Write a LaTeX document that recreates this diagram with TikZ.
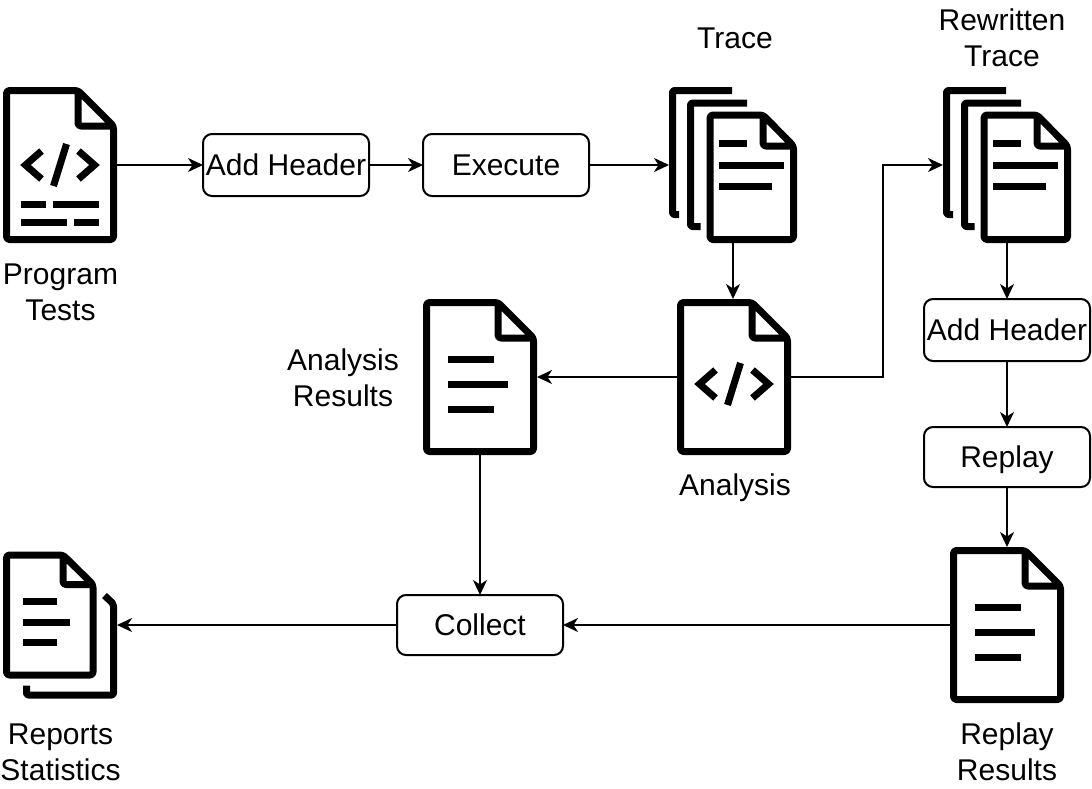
\documentclass[tikz,border=0pt]{standalone}
\usepackage{fontspec}
\setmainfont{Liberation Sans}
\usepackage{tikz}
\usetikzlibrary{arrows.meta}

\newcommand{\sheetpath}[6]{
  \draw[iconline,rounded corners=3pt] (#5,#2) -- (#1,#2) -- (#1,#4) -- (#3,#4) -- (#3,#6) -- (#5,#2) -- (#5,#6) -- (#3,#6) -- cycle;
}

\tikzset{
  iconline/.style={line width=7pt,line join=round},
  stepbox/.style={draw,line width=2pt,rounded corners=9pt,minimum width=166pt,inner sep=0pt,outer sep=0pt,text height=21pt,text depth=0pt},
  iconbox/.style={inner sep=0pt,outer sep=0pt,minimum width=114pt,minimum height=156pt},
  caption/.style={align=center,inner sep=0pt},
  pics/codefile/.style={code={
    \sheetpath{-53.5}{-74.5}{53.5}{74.5}{18}{-39}
  }},
  pics/codemark/.style={code={
    \draw[iconline,line join=miter] (-18.5,-14) -- (-34.5,0) -- (-18.5,14);
    \draw[iconline,line join=miter] (18.5,-14) -- (34.5,0) -- (18.5,14);
    \draw[iconline] (6.5,-21) -- (-6.5,21);
  }},
  pics/codetail/.style={code={
    \draw[iconline] (-39,39) -- (-14.5,39);
    \draw[iconline] (-7,39) -- (39,39);
    \draw[iconline] (-39,57) -- (7,57);
    \draw[iconline] (14,57) -- (39,57);
  }},
  pics/textfile/.style={code={
    \sheetpath{-53.5}{-74.5}{53.5}{74.5}{18}{-39}
    \draw[iconline] (-32,-18) -- (14,-18);
    \draw[iconline] (-32,7) -- (28,7);
    \draw[iconline] (-32,32) -- (14,32);
  }},
  pics/stackfile/.style={code={
    \draw[iconline,rounded corners=2pt] (-1,-74.5) -- (-60.5,-74.5) -- (-60.5,49.5) -- (-54,49.5);
    \draw[iconline,rounded corners=2pt] (14,-62) -- (-42.5,-62) -- (-42.5,61.5) -- (-32.5,61.5);
    \sheetpath{-23}{-50}{60.5}{74.5}{30}{-19}
    \draw[iconline] (-14,-22) -- (14,-22);
    \draw[iconline] (-14,0) -- (51,0);
    \draw[iconline] (-14,21) -- (39,21);
  }},
  pics/reportfile/.style={code={
    \sheetpath{-53.5}{-70}{33}{50}{3}{-40.5}
    \draw[iconline] (-37,-23.5) -- (-3,-23.5);
    \draw[iconline] (-37,-3) -- (10,-3);
    \draw[iconline] (-37,17) -- (-3,17);
    \draw[iconline,rounded corners=2pt] (44.5,-29.5) -- (53.5,-21) -- (53.5,70) -- (-33.5,70) -- (-33.5,60.5);
  }}
}

\begin{document}
\begin{tikzpicture}[x=1pt,y=-1pt,>={Stealth[length=15pt,width=14pt,inset=4.5pt]},line width=2pt,font=\fontsize{30}{36}\selectfont]
        \useasboundingbox (0,0) rectangle (1092,788);

        \node[iconbox] (tests) at (60,165) {};
        \node[stepbox,minimum height=62pt] (addheader) at (286,165) {Add Header};
        \node[stepbox,minimum height=62pt] (execute) at (506,165) {Execute};
        \node[iconbox,minimum width=128pt] (trace) at (733,165) {};
        \node[iconbox,minimum width=128pt] (rewritten) at (1007,165) {};
        \node[iconbox] (results) at (480,377) {};
        \node[iconbox] (analysis) at (734,377) {};
        \node[stepbox,minimum height=62pt] (addheaderb) at (1007,330) {Add Header};
        \node[stepbox,minimum height=60pt] (replay) at (1007,457) {Replay};
        \node[iconbox] (replayres) at (1007,625) {};
        \node[stepbox,minimum height=60pt] (collect) at (480,625) {Collect};
        \node[iconbox,minimum height=147pt] (reports) at (60,625) {};
        \coordinate (elbow) at (883,165);

        \pic at (tests.center) {codefile};
        \pic at (tests.center) {codemark};
        \pic at (tests.center) {codetail};
        \pic at (trace.center) {stackfile};
        \pic at (rewritten.center) {stackfile};
        \pic at (results.center) {textfile};
        \pic at (analysis.center) {codefile};
        \pic[yshift=-7pt] at (analysis.center) {codemark};
        \pic at (replayres.center) {textfile};
        \pic at (reports.center) {reportfile};

        \node[caption] (testslabel) at (60.5,292) {Program\\Tests};
        \node[caption] (tracelabel) at (735,38) {Trace};
        \node[caption] (rewrittenlabel) at (1002,38) {Rewritten\\Trace};
        \node[caption] (resultslabel) at (343,378) {Analysis\\Results};
        \node[caption] (analysislabel) at (735,488) {Analysis};
        \node[caption] (reportslabel) at (60.5,752) {Reports\\Statistics};
        \node[caption] (replaylabel) at (1007,752) {Replay\\Results};

        \path[->] (tests) edge (addheader);
        \path[->] (addheader) edge (execute);
        \path[->] (execute) edge (trace);
        \path[->] (trace) edge (trace |- analysis.north);
        \path[->] (analysis) edge (results);
        \draw[->] (analysis) -| (elbow) -- (rewritten);
        \path[->] (rewritten) edge (addheaderb);
        \path[->] (addheaderb) edge (replay);
        \path[->] (replay) edge (replayres);
        \path[->] (replayres) edge (collect);
        \path[->] (results) edge (collect);
        \path[->] (collect) edge (reports);
      \end{tikzpicture}
\end{document}
